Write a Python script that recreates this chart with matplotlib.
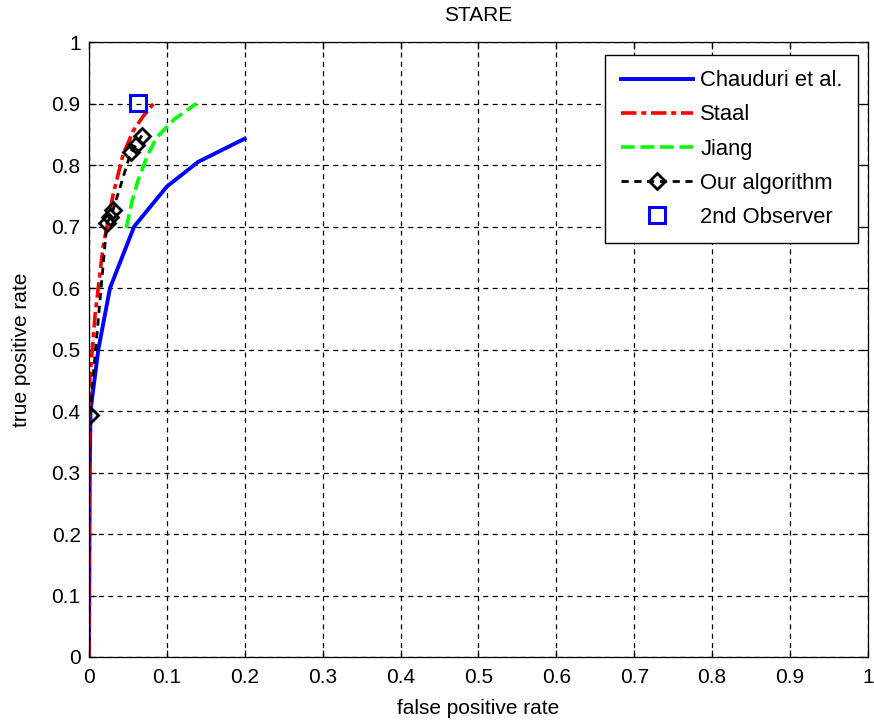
import numpy as np
import matplotlib
matplotlib.use('Agg')
from matplotlib import pyplot as plt

plt.rcParams['font.family'] = ['Liberation Sans', 'DejaVu Sans']

# ROC curves on STARE (false positive rate, true positive rate)
chaud_fpr = [0.0, 0.001, 0.002, 0.012, 0.027, 0.058, 0.10, 0.14, 0.20]
chaud_tpr = [0.0, 0.30, 0.40, 0.50, 0.60, 0.70, 0.765, 0.805, 0.843]

staal_fpr = [0.0, 0.0, 0.001, 0.008, 0.018, 0.031, 0.044, 0.057, 0.070, 0.083]
staal_tpr = [0.0, 0.35, 0.45, 0.558, 0.666, 0.752, 0.818, 0.856, 0.880, 0.90]

jiang_fpr = [0.048, 0.055, 0.063, 0.075, 0.087, 0.11, 0.138]
jiang_tpr = [0.698, 0.740, 0.775, 0.815, 0.845, 0.875, 0.90]

ours_fpr = [0.001, 0.023, 0.027, 0.031, 0.054, 0.060, 0.068]
ours_tpr = [0.394, 0.705, 0.715, 0.727, 0.822, 0.832, 0.848]

observer_fpr = [0.063]
observer_tpr = [0.901]

ticks = np.arange(0, 1.01, 0.1)
tick_labels = ['0', '0.1', '0.2', '0.3', '0.4', '0.5', '0.6', '0.7', '0.8', '0.9', '1']
fs = 15

fig = plt.figure(figsize=(8.74, 7.25), dpi=100)
ax = fig.add_axes([0.1018, 0.0938, 0.8912, 0.8482])

ax.plot(chaud_fpr, chaud_tpr, '-', color='#0000ff', lw=2.8, label='Chauduri et al.')
ax.plot(staal_fpr, staal_tpr, color='#ff0000', lw=2.6,
        linestyle=(0, (4.3, 1.3, 1.4, 1.3)), label='Staal')
ax.plot(jiang_fpr, jiang_tpr, color='#00ff00', lw=2.6,
        linestyle=(0, (3.8, 1.6)), label='Jiang')
ax.plot(ours_fpr, ours_tpr, color='k', lw=2.0, linestyle=(0, (2.6, 2.0)),
        marker='D', ms=8, mfc='none', mec='k', mew=2.0, label='Our algorithm')
ax.plot(observer_fpr, observer_tpr, 's', color='#0000ff', ms=11, mfc='none',
        mew=2.2, label='2nd Observer')

ax.set_xlim(0, 1)
ax.set_ylim(0, 1)
ax.set_xticks(ticks)
ax.set_yticks(ticks)
ax.set_xticklabels(tick_labels)
ax.set_yticklabels(tick_labels)
ax.tick_params(direction='in', length=5, top=True, right=True, labelsize=fs, width=0.9)
ax.tick_params(axis='x', pad=8)
ax.tick_params(axis='y', pad=6)
ax.grid(True, color='k', linestyle=(0, (4, 3.5)), linewidth=0.9)
for s in ax.spines.values():
    s.set_linewidth(0.9)

ax.set_xlabel('false positive rate', fontsize=fs)
ax.set_ylabel('true positive rate', fontsize=fs)
ax.xaxis.set_label_coords(0.5, -0.068)
ax.yaxis.set_label_coords(-0.074, 0.5)
ax.set_title('STARE', fontsize=fs, pad=15)

leg = ax.legend(loc='upper right', bbox_to_anchor=(0.9875, 0.979), fontsize=15.8,
                fancybox=False, edgecolor='k', framealpha=1, handlelength=3.3,
                borderpad=0.7, labelspacing=0.6, handletextpad=0.33,
                borderaxespad=0.0)
leg.get_frame().set_linewidth(1.0)

fig.savefig('out.png', dpi=100)
